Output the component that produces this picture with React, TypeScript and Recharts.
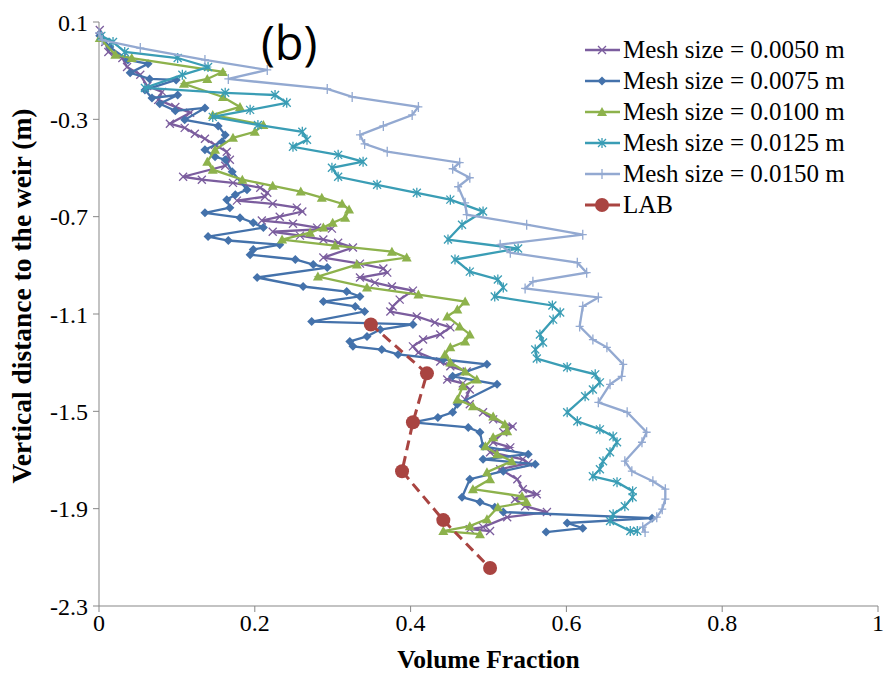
import { ScatterChart, Scatter, XAxis, YAxis, Legend } from 'recharts';

const xTicks = [0, 0.2, 0.4, 0.6, 0.8, 1];
const yTicks = [0.1, -0.3, -0.7, -1.1, -1.5, -1.9, -2.3];

// each point: [volume fraction, vertical distance to the weir]
const mesh0050: [number, number][] = [
  [0.001, 0.067], [0.008, 0.018], [0.012, -0.023], [0.03, -0.048], [0.036, -0.085], [0.053, -0.117],
  [0.062, -0.163], [0.081, -0.187], [0.076, -0.22], [0.098, -0.249], [0.117, -0.273], [0.091, -0.318],
  [0.11, -0.335], [0.123, -0.359], [0.136, -0.38], [0.149, -0.405], [0.164, -0.433], [0.168, -0.466],
  [0.162, -0.491], [0.108, -0.536], [0.132, -0.548], [0.172, -0.561], [0.207, -0.581], [0.216, -0.602],
  [0.213, -0.618], [0.177, -0.634], [0.223, -0.647], [0.254, -0.663], [0.261, -0.679], [0.232, -0.7],
  [0.209, -0.716], [0.249, -0.729], [0.28, -0.745], [0.299, -0.749], [0.223, -0.762], [0.258, -0.778],
  [0.288, -0.794], [0.307, -0.807], [0.326, -0.827], [0.288, -0.868], [0.335, -0.893], [0.365, -0.913],
  [0.37, -0.93], [0.335, -0.95], [0.354, -0.971], [0.376, -0.987], [0.403, -1.004], [0.386, -1.041],
  [0.377, -1.069], [0.374, -1.09], [0.408, -1.11], [0.431, -1.135], [0.451, -1.155], [0.438, -1.184],
  [0.416, -1.205], [0.403, -1.233], [0.41, -1.258], [0.438, -1.295], [0.451, -1.315], [0.472, -1.336],
  [0.447, -1.369], [0.467, -1.385], [0.476, -1.41], [0.47, -1.451], [0.476, -1.471], [0.493, -1.504],
  [0.506, -1.533], [0.531, -1.562], [0.519, -1.586], [0.506, -1.627], [0.528, -1.648], [0.502, -1.668],
  [0.544, -1.697], [0.551, -1.713], [0.515, -1.738], [0.537, -1.779], [0.544, -1.82], [0.562, -1.841],
  [0.534, -1.861], [0.547, -1.89], [0.575, -1.914], [0.524, -1.935], [0.493, -1.976], [0.476, -1.984],
  [0.502, -1.992],
];

const mesh0075: [number, number][] = [
  [0.001, 0.043], [0.014, -0.003], [0.037, -0.056], [0.063, -0.072], [0.04, -0.109], [0.065, -0.134],
  [0.099, -0.138], [0.059, -0.179], [0.068, -0.212], [0.101, -0.2], [0.078, -0.236], [0.098, -0.265],
  [0.136, -0.253], [0.11, -0.302], [0.153, -0.327], [0.162, -0.364], [0.158, -0.392], [0.136, -0.425],
  [0.149, -0.454], [0.162, -0.466], [0.171, -0.515], [0.19, -0.589], [0.175, -0.61], [0.164, -0.63],
  [0.168, -0.663], [0.136, -0.684], [0.181, -0.704], [0.198, -0.725], [0.211, -0.745], [0.14, -0.782],
  [0.166, -0.798], [0.232, -0.815], [0.198, -0.835], [0.194, -0.856], [0.252, -0.876], [0.275, -0.897],
  [0.293, -0.909], [0.203, -0.95], [0.262, -0.987], [0.318, -1.008], [0.335, -1.028], [0.288, -1.049],
  [0.329, -1.069], [0.341, -1.09], [0.273, -1.131], [0.403, -1.143], [0.361, -1.164], [0.344, -1.192],
  [0.322, -1.213], [0.326, -1.233], [0.363, -1.246], [0.384, -1.266], [0.442, -1.287], [0.498, -1.307],
  [0.454, -1.356], [0.511, -1.389], [0.46, -1.471], [0.454, -1.504], [0.435, -1.525], [0.403, -1.545],
  [0.474, -1.566], [0.489, -1.586], [0.493, -1.644], [0.551, -1.676], [0.493, -1.697], [0.56, -1.717],
  [0.519, -1.746], [0.476, -1.779], [0.466, -1.853], [0.489, -1.873], [0.508, -1.894], [0.519, -1.914],
  [0.71, -1.939], [0.601, -1.959], [0.621, -1.98], [0.574, -1.996],
];

const mesh0100: [number, number][] = [
  [0.001, 0.034], [0.021, -0.035], [0.042, -0.048], [0.159, -0.105], [0.139, -0.134], [0.109, -0.154],
  [0.159, -0.208], [0.181, -0.249], [0.146, -0.282], [0.211, -0.323], [0.2, -0.351], [0.172, -0.376],
  [0.149, -0.425], [0.139, -0.474], [0.146, -0.507], [0.184, -0.548], [0.223, -0.573], [0.259, -0.597],
  [0.286, -0.622], [0.312, -0.647], [0.321, -0.671], [0.316, -0.704], [0.3, -0.725], [0.288, -0.745],
  [0.271, -0.766], [0.235, -0.794], [0.303, -0.819], [0.376, -0.844], [0.395, -0.868], [0.331, -0.897],
  [0.281, -0.946], [0.344, -0.991], [0.41, -1.02], [0.47, -1.049], [0.46, -1.082], [0.447, -1.11],
  [0.463, -1.151], [0.476, -1.184], [0.47, -1.213], [0.451, -1.237], [0.444, -1.266], [0.451, -1.299],
  [0.47, -1.336], [0.485, -1.369], [0.467, -1.397], [0.46, -1.451], [0.48, -1.479], [0.506, -1.521],
  [0.521, -1.553], [0.524, -1.582], [0.506, -1.607], [0.496, -1.644], [0.511, -1.676], [0.53, -1.705],
  [0.498, -1.75], [0.502, -1.779], [0.48, -1.82], [0.543, -1.849], [0.549, -1.873], [0.512, -1.894],
  [0.498, -1.943], [0.476, -1.972], [0.442, -1.992], [0.489, -2.005],
];

const mesh0125: [number, number][] = [
  [0.003, 0.043], [0.018, 0.018], [0.033, -0.023], [0.101, -0.048], [0.14, -0.085], [0.107, -0.117],
  [0.059, -0.171], [0.162, -0.191], [0.226, -0.2], [0.241, -0.232], [0.194, -0.261], [0.146, -0.29],
  [0.204, -0.323], [0.261, -0.351], [0.267, -0.384], [0.249, -0.413], [0.307, -0.446], [0.339, -0.474],
  [0.299, -0.499], [0.307, -0.536], [0.357, -0.569], [0.408, -0.602], [0.451, -0.63], [0.493, -0.679],
  [0.466, -0.733], [0.448, -0.794], [0.538, -0.831], [0.457, -0.876], [0.476, -0.926], [0.512, -0.958],
  [0.519, -0.991], [0.508, -1.028], [0.582, -1.065], [0.592, -1.094], [0.583, -1.123], [0.566, -1.184],
  [0.57, -1.217], [0.56, -1.246], [0.562, -1.283], [0.601, -1.319], [0.637, -1.348], [0.643, -1.381],
  [0.634, -1.41], [0.624, -1.438], [0.601, -1.504], [0.614, -1.541], [0.643, -1.574], [0.66, -1.603],
  [0.665, -1.627], [0.656, -1.668], [0.647, -1.705], [0.643, -1.738], [0.634, -1.767], [0.665, -1.791],
  [0.685, -1.828], [0.685, -1.853], [0.675, -1.89], [0.66, -1.923], [0.656, -1.951], [0.682, -1.992],
  [0.691, -1.992],
];

const mesh0150: [number, number][] = [
  [0.0, 0.055], [0.004, 0.026], [0.053, -0.007], [0.136, -0.056], [0.216, -0.097], [0.166, -0.134],
  [0.293, -0.175], [0.325, -0.208], [0.41, -0.249], [0.402, -0.282], [0.365, -0.327], [0.335, -0.364],
  [0.341, -0.401], [0.37, -0.433], [0.463, -0.478], [0.454, -0.503], [0.476, -0.54], [0.461, -0.577],
  [0.47, -0.643], [0.472, -0.692], [0.549, -0.733], [0.621, -0.774], [0.515, -0.815], [0.528, -0.848],
  [0.614, -0.889], [0.626, -0.93], [0.557, -0.967], [0.547, -0.995], [0.641, -1.032], [0.621, -1.069],
  [0.617, -1.151], [0.634, -1.205], [0.652, -1.237], [0.673, -1.307], [0.671, -1.356], [0.656, -1.389],
  [0.641, -1.463], [0.678, -1.504], [0.703, -1.586], [0.697, -1.627], [0.675, -1.705], [0.684, -1.746],
  [0.711, -1.787], [0.727, -1.82], [0.727, -1.861], [0.723, -1.902], [0.716, -1.935], [0.698, -1.976],
  [0.701, -1.996],
];

const lab: [number, number][] = [
  [0.349, -1.143], [0.421, -1.344], [0.403, -1.545], [0.389, -1.746], [0.442, -1.947], [0.502, -2.144],
];

const series = [
  { name: 'Mesh size = 0.0050 m', points: mesh0050, color: '#7B5D9E', marker: 'x' },
  { name: 'Mesh size = 0.0075 m', points: mesh0075, color: '#4472AB', marker: 'diamond' },
  { name: 'Mesh size = 0.0100 m', points: mesh0100, color: '#8DB24C', marker: 'triangle' },
  { name: 'Mesh size = 0.0125 m', points: mesh0125, color: '#3A9DB5', marker: 'star' },
  { name: 'Mesh size = 0.0150 m', points: mesh0150, color: '#93A9D1', marker: 'plus' },
  { name: 'LAB', points: lab, color: '#A94441', marker: 'circle' },
];

const serif = '"Liberation Serif", "Times New Roman", serif';
const axisColor = '#878787';

function Marker({ cx, cy, kind, color }: { cx: number; cy: number; kind: string; color: string }) {
  if (cx == null || cy == null) return null;
  switch (kind) {
    case 'x':
      return (
        <path d={`M${cx - 4},${cy - 4}L${cx + 4},${cy + 4}M${cx - 4},${cy + 4}L${cx + 4},${cy - 4}`} stroke={color} strokeWidth={1.3} />
      );
    case 'diamond':
      return <path d={`M${cx},${cy - 4.5}L${cx + 4.5},${cy}L${cx},${cy + 4.5}L${cx - 4.5},${cy}Z`} fill={color} />;
    case 'triangle':
      return <path d={`M${cx},${cy - 5}L${cx + 5},${cy + 4}L${cx - 5},${cy + 4}Z`} fill={color} />;
    case 'star':
      return (
        <path
          d={`M${cx - 4},${cy - 4}L${cx + 4},${cy + 4}M${cx - 4},${cy + 4}L${cx + 4},${cy - 4}M${cx},${cy - 5}L${cx},${cy + 5}`}
          stroke={color}
          strokeWidth={1.3}
        />
      );
    case 'plus':
      return <path d={`M${cx - 4},${cy}L${cx + 4},${cy}M${cx},${cy - 5}L${cx},${cy + 5}`} stroke={color} strokeWidth={1.3} />;
    default:
      return <circle cx={cx} cy={cy} r={7} fill={color} />;
  }
}

function LegendBox() {
  return (
    <svg width={300} height={190}>
      {series.map((s, i) => {
        const y = 16 + i * 31;
        return (
          <g key={s.name}>
            <line
              x1={5}
              x2={40}
              y1={y}
              y2={y}
              stroke={s.color}
              strokeWidth={s.marker === 'circle' ? 3 : 2.5}
            />
            <Marker cx={22} cy={y} kind={s.marker} color={s.color} />
            <text x={43} y={y + 8} fontFamily={serif} fontSize={25} fill="#000">
              {s.name}
            </text>
          </g>
        );
      })}
    </svg>
  );
}

export default function App() {
  return (
    <div style={{ position: 'absolute', left: 0, top: 0, width: 885, height: 675, background: '#fff' }}>
      <ScatterChart width={885} height={675} margin={{ top: 22, right: 7, bottom: 0, left: 0 }}>
        <XAxis
          type="number"
          dataKey="x"
          domain={[0, 1]}
          ticks={xTicks}
          height={69}
          stroke={axisColor}
          tickSize={6}
          tickFormatter={(v: number) => String(Number(v.toFixed(1)))}
          tick={{ fill: '#000', fontFamily: serif, fontSize: 24 }}
          label={({ viewBox }: any) => (
            <text
              x={viewBox.x + viewBox.width / 2}
              y={668}
              textAnchor="middle"
              fontFamily={serif}
              fontWeight="bold"
              fontSize={25.5}
              fill="#000"
            >
              Volume Fraction
            </text>
          )}
        />
        <YAxis
          type="number"
          dataKey="y"
          domain={[-2.3, 0.1]}
          ticks={yTicks}
          width={99}
          stroke={axisColor}
          tickSize={6}
          tickMargin={5}
          tickFormatter={(v: number) => v.toFixed(1)}
          tick={{ fill: '#000', fontFamily: serif, fontSize: 24 }}
          label={() => (
            <text
              x={31}
              y={296}
              transform="rotate(-90, 31, 296)"
              textAnchor="middle"
              fontFamily={serif}
              fontWeight="bold"
              fontSize={27.5}
              fill="#000"
            >
              Vertical distance to the weir (m)
            </text>
          )}
        />
        {series.map((s) => (
          <Scatter
            key={s.name}
            name={s.name}
            data={s.points.map(([x, y]) => ({ x, y }))}
            fill={s.color}
            line={{
              stroke: s.color,
              strokeWidth: s.marker === 'circle' ? 3 : 2.3,
              strokeDasharray: s.marker === 'circle' ? '10 6' : undefined,
            }}
            lineType="joint"
            isAnimationActive={false}
            shape={(p: any) => <Marker cx={p.cx} cy={p.cy} kind={s.marker} color={s.color} />}
          />
        ))}
        <Legend
          layout="vertical"
          align="center"
          verticalAlign="middle"
          wrapperStyle={{ top: 34, left: 580 }}
          content={() => <LegendBox />}
        />
      </ScatterChart>
      <div
        style={{
          position: 'absolute',
          left: 261,
          top: 14,
          fontFamily: '"Open Sans", sans-serif',
          fontSize: 47,
          color: '#000',
          lineHeight: 1.2,
        }}
      >
        (b)
      </div>
    </div>
  );
}
